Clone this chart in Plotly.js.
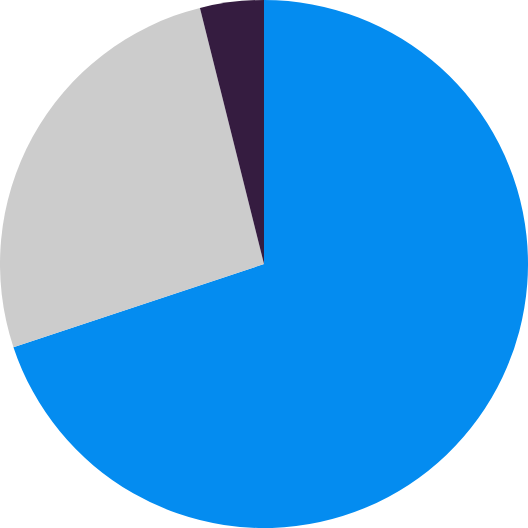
<!DOCTYPE html>
<html>
<head>
<meta charset="utf-8">
<script src="https://cdn.plot.ly/plotly-3.0.1.min.js"></script>
<style>
  html, body { margin: 0; padding: 0; background: #fff; }
  #chart { width: 528px; height: 528px; }
</style>
</head>
<body>
<div id="chart"></div>
<script>
// slice values, clockwise from 12 o'clock
const labels = ['A', 'B', 'C'];
const values = [69.9, 26.2, 3.9];
const colors = ['#048cf0', '#cccccc', '#351c40'];

const trace = {
  type: 'pie',
  labels: labels,
  values: values,
  sort: false,
  direction: 'clockwise',
  rotation: 0,
  textinfo: 'none',
  hoverinfo: 'label+percent',
  marker: { colors: colors, line: { width: 0 } }
};

const layout = {
  width: 528,
  height: 528,
  margin: { l: 0, r: 0, t: 0, b: 0, pad: 0 },
  showlegend: false,
  paper_bgcolor: '#fff'
};

Plotly.newPlot('chart', [trace], layout, { displayModeBar: false, staticPlot: true });
</script>
</body>
</html>
